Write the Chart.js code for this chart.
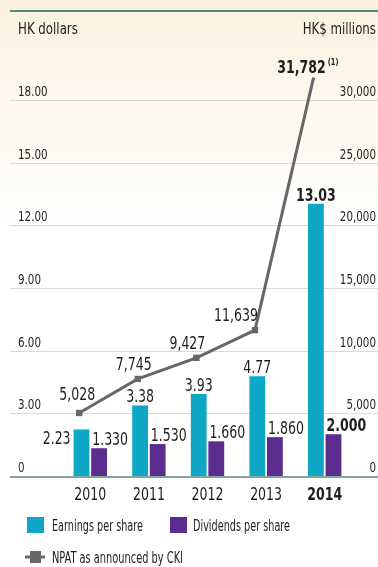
<!DOCTYPE html>
<html>
<head>
<meta charset="utf-8">
<script src="https://cdn.jsdelivr.net/npm/chart.js@4"></script>
<style>
  html, body { margin: 0; padding: 0; background: #fff; }
  canvas { display: block; }
</style>
</head>
<body>
<canvas id="myChart" width="378" height="567"></canvas>
<script>
// data
const years = ['2010', '2011', '2012', '2013', '2014'];
const eps = [2.23, 3.38, 3.93, 4.77, 13.03];
const dps = [1.33, 1.53, 1.66, 1.86, 2.0];
const npat = [5028, 7745, 9427, 11639, 31782];
const leftTicks = [0, 3, 6, 9, 12, 15, 18];
const rightTicks = [0, 5000, 10000, 15000, 20000, 25000, 30000];

const FONT = '"Liberation Sans Narrow", "DejaVu Sans Condensed", sans-serif';
const EPS_COLOR = '#10a7c6';
const DPS_COLOR = '#5b2d8e';
const LINE_COLOR = '#676767';
const SQUEEZE = 0.82;
// the NPAT line sits over the earnings bars, not the category centre
const LINE_SHIFT = -0.19;

const fmtLeft = (v) => (v === 0 ? '0' : v.toFixed(2));
const fmtRight = (v) => (v === 0 ? '0' : v.toLocaleString('en-US'));

function text(ctx, str, x, y) {
  ctx.fillText(str, x, y, ctx.measureText(str).width * SQUEEZE);
}

// background, grid lines, axis labels, legend
const pluginFrame = {
  id: 'frame',
  beforeDraw(chart) {
    const { ctx, width, height } = chart;
    const y = chart.scales.y;
    const y1 = chart.scales.y1;
    ctx.save();
    const grad = ctx.createLinearGradient(0, 0, 0, 220);
    grad.addColorStop(0, '#fcf1de');
    grad.addColorStop(1, '#ffffff');
    ctx.fillStyle = grad;
    ctx.fillRect(0, 0, width, height);

    // top rule
    ctx.fillStyle = '#4f8b78';
    ctx.fillRect(10, 10, width - 10, 2);

    // titles
    ctx.fillStyle = '#1e1e1e';
    ctx.font = '16px ' + FONT;
    ctx.textBaseline = 'alphabetic';
    ctx.textAlign = 'left';
    text(ctx, 'HK dollars', 18, 34);
    ctx.textAlign = 'right';
    text(ctx, 'HK$ millions', 376, 34);

    // grid lines
    leftTicks.forEach((v) => {
      if (v === 0) return;
      const py = Math.round(y.getPixelForValue(v)) + 0.5;
      ctx.strokeStyle = '#dadada';
      ctx.lineWidth = 1;
      ctx.beginPath();
      ctx.moveTo(10, py);
      ctx.lineTo(width, py);
      ctx.stroke();
    });

    // tick labels
    ctx.font = '14px ' + FONT;
    ctx.fillStyle = '#262626';
    ctx.textAlign = 'left';
    leftTicks.forEach((v) => {
      text(ctx, fmtLeft(v), 18, y.getPixelForValue(v) - 4);
    });
    ctx.textAlign = 'right';
    rightTicks.forEach((v) => {
      text(ctx, fmtRight(v), 376, y1.getPixelForValue(v) - 4);
    });

    // legend
    ctx.font = '15px ' + FONT;
    ctx.textAlign = 'left';
    ctx.fillStyle = EPS_COLOR;
    ctx.fillRect(27, 517, 17, 16);
    ctx.fillStyle = DPS_COLOR;
    ctx.fillRect(170, 517, 17, 16);
    ctx.fillStyle = '#1e1e1e';
    ctx.fillText('Earnings per share', 52, 531, 91);
    ctx.fillText('Dividends per share', 193, 531, 97);
    ctx.strokeStyle = LINE_COLOR;
    ctx.lineWidth = 3;
    ctx.beginPath();
    ctx.moveTo(25, 557);
    ctx.lineTo(45, 557);
    ctx.stroke();
    ctx.fillStyle = LINE_COLOR;
    ctx.fillRect(30, 551, 11, 12);
    ctx.fillStyle = '#1e1e1e';
    ctx.fillText('NPAT as announced by CKI', 52, 563, 131);
    ctx.restore();
  },
  afterDatasetsDraw(chart) {
    const { ctx, width } = chart;
    const y = chart.scales.y;
    const x = chart.scales.x;
    ctx.save();
    // bottom axis line
    ctx.fillStyle = '#7ea796';
    ctx.fillRect(10, Math.round(y.getPixelForValue(0)), width - 10, 2);

    // category labels
    ctx.fillStyle = '#1e1e1e';
    ctx.textAlign = 'center';
    ctx.textBaseline = 'alphabetic';
    years.forEach((yr, i) => {
      const last = i === years.length - 1;
      ctx.font = (last ? 'bold ' : '') + '17px ' + FONT;
      text(ctx, yr, x.getPixelForValue(i), 500);
    });

    // value labels
    const epsMeta = chart.getDatasetMeta(0);
    const dpsMeta = chart.getDatasetMeta(1);
    const lineMeta = chart.getDatasetMeta(2);
    epsMeta.data.forEach((bar, i) => {
      const last = i === eps.length - 1;
      ctx.font = (last ? 'bold ' : '') + '17px ' + FONT;
      if (i === 0) {
        ctx.textAlign = 'right';
        text(ctx, eps[i].toFixed(2), bar.x - bar.width / 2 - 3, bar.y + 15);
      } else {
        ctx.textAlign = 'center';
        text(ctx, eps[i].toFixed(2), bar.x, bar.y - 3);
      }
    });
    dpsMeta.data.forEach((bar, i) => {
      const last = i === dps.length - 1;
      ctx.font = (last ? 'bold ' : '') + '17px ' + FONT;
      ctx.textAlign = 'left';
      text(ctx, dps[i].toFixed(3), bar.x - bar.width / 2 + 1, bar.y - 3);
    });
    const lineDx = [-2, -4, -9, -19, -12];
    const lineDy = [-13, -9, -9, -9, -5];
    lineMeta.data.forEach((pt, i) => {
      const last = i === npat.length - 1;
      ctx.font = (last ? 'bold ' : '') + '17px ' + FONT;
      ctx.textAlign = 'center';
      const txt = npat[i].toLocaleString('en-US');
      const cx = pt.x + lineDx[i];
      text(ctx, txt, cx, pt.y + lineDy[i]);
      if (last) {
        const w = ctx.measureText(txt).width * SQUEEZE;
        ctx.font = 'bold 9px ' + FONT;
        ctx.textAlign = 'left';
        text(ctx, '(1)', cx + w / 2 + 2, pt.y + lineDy[i] - 8);
      }
    });
    ctx.restore();
  },
};

const chartContext = document.getElementById('myChart').getContext('2d');

const chart = new Chart(chartContext, {
  type: 'bar',
  data: {
    datasets: [
      {
        label: 'Earnings per share',
        data: eps.map((v, i) => ({ x: i, y: v })),
        backgroundColor: EPS_COLOR,
        yAxisID: 'y',
        order: 2,
      },
      {
        label: 'Dividends per share',
        data: dps.map((v, i) => ({ x: i, y: v })),
        backgroundColor: DPS_COLOR,
        yAxisID: 'y',
        order: 2,
      },
      {
        type: 'line',
        label: 'NPAT as announced by CKI',
        data: npat.map((v, i) => ({ x: i + LINE_SHIFT, y: v })),
        borderColor: LINE_COLOR,
        backgroundColor: LINE_COLOR,
        borderWidth: 3,
        pointStyle: 'rect',
        pointRadius: 4.5,
        pointBackgroundColor: LINE_COLOR,
        pointBorderWidth: 0,
        tension: 0,
        clip: false,
        yAxisID: 'y1',
        order: 1,
      },
    ],
  },
  options: {
    responsive: false,
    animation: false,
    events: [],
    layout: { padding: { left: 61, right: 24, top: 100, bottom: 91 } },
    datasets: {
      bar: { categoryPercentage: 0.6, barPercentage: 0.9 },
    },
    scales: {
      x: { type: 'linear', display: false, offset: false, min: -0.5, max: 4.5 },
      y: { display: false, min: 0, max: 18 },
      y1: { display: false, min: 0, max: 30000 },
    },
    plugins: {
      legend: { display: false },
      tooltip: { enabled: false },
    },
  },
  plugins: [pluginFrame],
});
</script>
</body>
</html>
